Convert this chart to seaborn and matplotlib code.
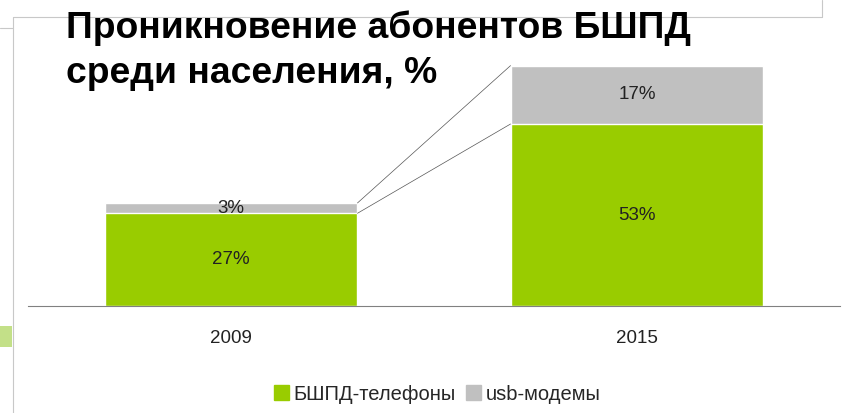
import numpy as np
import pandas as pd
import matplotlib
matplotlib.use('Agg')
import matplotlib.pyplot as plt
import seaborn as sns
from matplotlib.lines import Line2D

years = ['2009', '2015']
phones = [27, 53]
modems = [3, 17]
series_names = ['БШПД-телефоны', 'usb-модемы']
title_lines = ['Проникновение абонентов БШПД', 'среди населения, %']

green = '#99CC00'
gray = '#C0C0C0'

sns.set_style('white')
plt.rcParams['font.family'] = ['Liberation Sans', 'DejaVu Sans']

df = pd.DataFrame({'year': years, 'phones': phones, 'modems': modems})
df['total'] = df['phones'] + df['modems']

fig = plt.figure(figsize=(8.48, 4.13), dpi=100)
ax = fig.add_axes([28 / 848, 107 / 413, 812 / 848, 306 / 413])

bw = 0.623
sns.barplot(data=df, x='year', y='total', color=gray, width=bw, ax=ax, saturation=1)
sns.barplot(data=df, x='year', y='phones', color=green, width=bw, ax=ax, saturation=1)

# data labels
for i, row in df.iterrows():
    ax.text(i, row['phones'] / 2, f"{row['phones']}%", ha='center', va='center',
            fontsize=13.5, color='#222222')
    ax.text(i, row['phones'] + row['modems'] / 2, f"{row['modems']}%", ha='center',
            va='center', fontsize=13.5, color='#222222')

# connector lines between the bars
x0 = 0 + bw / 2
x1 = 1 - bw / 2
ax.plot([x0, x1], [df['total'][0], df['total'][1]], color='#555555', lw=0.5)
ax.plot([x0, x1], [df['phones'][0], df['phones'][1]], color='#555555', lw=0.5)

ax.set_xlim(-0.5, 1.5)
ax.set_ylim(0, 306 / (182 / 53))
ax.set_xlabel('')
ax.set_ylabel('')
ax.set_yticks([])
ax.tick_params(axis='x', which='major', length=0, labelsize=13.5, pad=17,
               labelcolor='#222222')
ax.set_xticks([-0.5, 0.5, 1.5], minor=True)
ax.tick_params(axis='x', which='minor', length=5, color='#808080', width=0.8)
for s in ['top', 'left', 'right']:
    ax.spines[s].set_visible(False)
ax.spines['bottom'].set_color('#808080')
ax.spines['bottom'].set_linewidth(0.8)
ax.patch.set_alpha(0)
if ax.get_legend() is not None:
    ax.get_legend().remove()

handles = [plt.Rectangle((0, 0), 1, 1, color=green),
           plt.Rectangle((0, 0), 1, 1, color=gray)]
fig.legend(handles, series_names, loc='center', bbox_to_anchor=(437 / 848, 1 - 394 / 413),
           ncol=2, frameon=False, fontsize=14.5, handlelength=0.75, handleheight=0.75,
           handletextpad=0.2, columnspacing=0.55)

# title, one text per line
for line, base in zip(title_lines, [38, 83]):
    fig.text(66 / 848, 1 - base / 413, line, ha='left', va='baseline', fontsize=26.8,
             fontweight='bold', color='black')

# slide frame lines
fig.add_artist(Line2D([13 / 848, 822 / 848], [1 - 17 / 413] * 2, color='#C8C8C8', lw=0.8))
fig.add_artist(Line2D([0, 13 / 848], [1 - 28 / 413] * 2, color='#C8C8C8', lw=0.8))
fig.add_artist(Line2D([13 / 848] * 2, [0, 1 - 17 / 413], color='#C8C8C8', lw=0.8))
fig.add_artist(Line2D([822 / 848] * 2, [1 - 17 / 413, 1], color='#C8C8C8', lw=0.8))
# green swoosh at the left edge
fig.add_artist(plt.Rectangle((0, 1 - 347 / 413), 12 / 848, 21 / 413,
                             color='#B5D96A', alpha=0.8, lw=0))

fig.savefig('out.png', dpi=100)
